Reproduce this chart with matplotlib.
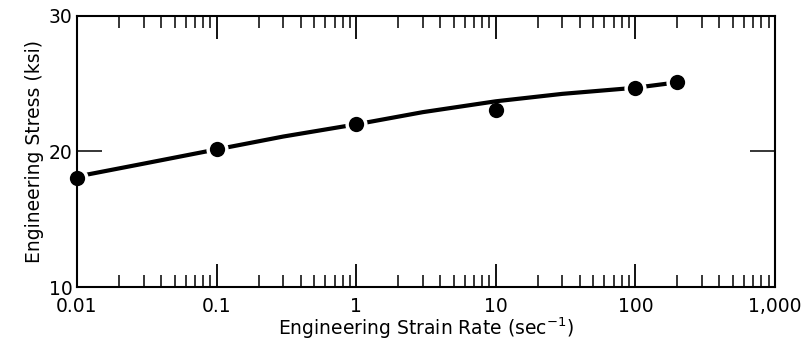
import matplotlib.pyplot as plt
from matplotlib.ticker import FixedLocator, LogLocator, NullFormatter

# measured points
rate = [0.01, 0.1, 1, 10, 100, 200]
stress = [18.05, 20.15, 22.0, 23.05, 24.65, 25.1]

# hand-drawn trend curve through the data
fit_rate = [0.01, 0.03, 0.1, 0.3, 1, 3, 10, 30, 100]
fit_stress = [18.15, 19.1, 20.15, 21.1, 22.0, 22.9, 23.7, 24.25, 24.7]
dash_rate = [100, 200]
dash_stress = [24.7, 25.1]

xticks = [0.01, 0.1, 1, 10, 100, 1000]
xlabels = ["0.01", "0.1", "1", "10", "100", "1,000"]
yticks = [10, 20, 30]

plt.rcParams['font.family'] = ['DejaVu Sans']
fig, ax = plt.subplots(figsize=(8.06, 3.46), dpi=100)
fig.subplots_adjust(left=0.0955, right=0.9615, top=0.954, bottom=0.1705)

ax.plot(fit_rate, fit_stress, color='black', lw=3, solid_capstyle='butt', zorder=2)
ax.plot(dash_rate, dash_stress, color='black', lw=3, solid_capstyle='butt', zorder=2)

# white halo gives the break in the curve around each dot
gap = [i for i in range(len(rate)) if rate[i] != 10]
ax.plot([rate[i] for i in gap], [stress[i] for i in gap], 'o', color='white',
        ms=16, mew=0, zorder=3, clip_on=False)
ax.plot(rate, stress, 'o', color='black', ms=11, mew=0, zorder=4, clip_on=False)

ax.set_xscale('log')
ax.set_xlim(0.01, 1000)
ax.set_ylim(10, 30)

ax.xaxis.set_major_locator(FixedLocator(xticks))
ax.set_xticklabels(xlabels)
ax.xaxis.set_minor_locator(LogLocator(base=10, subs=range(2, 10)))
ax.xaxis.set_minor_formatter(NullFormatter())
ax.set_yticks(yticks)

ax.tick_params(axis='x', which='major', direction='in', length=16.5, width=1.3,
               top=True, labelsize=13.5, pad=7)
ax.tick_params(axis='x', which='minor', direction='in', length=8.5, width=1.1, top=True)
ax.tick_params(axis='y', which='major', direction='in', length=18, width=1.1,
               right=True, labelsize=13.5, pad=3)
for s in ax.spines.values():
    s.set_linewidth(1.5)
    s.set_zorder(5)

ax.set_xlabel("Engineering Strain Rate (sec$^{-1}$)", fontsize=13.5, labelpad=0)
ax.set_ylabel("Engineering Stress (ksi)", fontsize=13.5, labelpad=4)

fig.savefig("out.png", dpi=100)
